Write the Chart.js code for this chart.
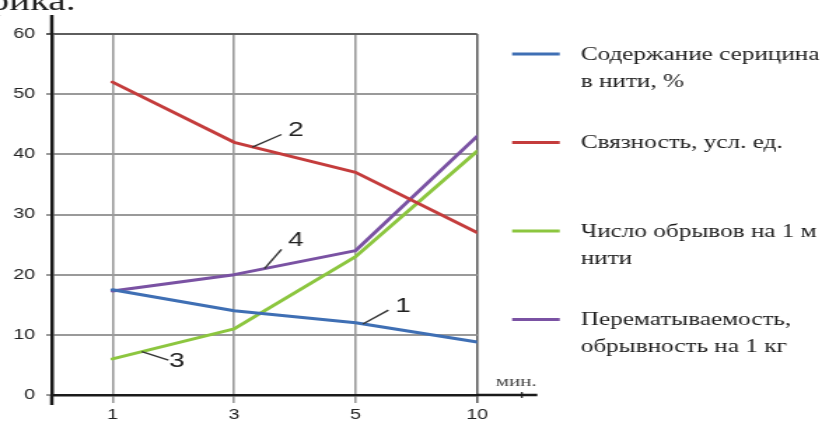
<!DOCTYPE html>
<html><head><meta charset="utf-8">
<script src="https://cdn.jsdelivr.net/npm/chart.js@4.4.1/dist/chart.umd.min.js"></script>
<style>html,body{margin:0;padding:0;background:#fff;overflow:hidden}
#c{display:block}</style>
</head><body>
<canvas id="c" width="597" height="424" style="width:836px;height:424px"></canvas>
<script>
// ---- data ----
const categories = ['1', '3', '5', '10'];
const xUnit = 'мин.';
const yTicks = [0, 10, 20, 30, 40, 50, 60];
const sericin = [17.5, 14, 12, 8.8];
const cohesion = [52, 42, 37, 27];
const breaksPerMeter = [6, 11, 23, 40.5];
const rewinding = [17.3, 20, 24, 43];
const seriesNames = [
  'Содержание серицина\nв нити, %',
  'Связность, усл. ед.',
  'Число обрывов на 1 м\nнити',
  'Перематываемость,\nобрывность на 1 кг'
];
const seriesNumbers = ['1', '2', '3', '4'];
const seriesColors = ['#3f6fb4', '#c43c3c', '#8cc63f', '#7a52a3'];
// callout numbers with leader lines (in data units: x = category index, y = value)
const callouts = [
  { n: '1', tx: 3.39, ty: 14.7, x1: 3.06, y1: 11.8, x2: 3.27, y2: 14.1 },
  { n: '2', tx: 2.51, ty: 44.0, x1: 2.15, y1: 41.2, x2: 2.39, y2: 43.3 },
  { n: '3', tx: 1.53, ty: 5.5, x1: 1.24, y1: 7.2, x2: 1.46, y2: 5.8 },
  { n: '4', tx: 2.51, ty: 25.6, x1: 2.25, y1: 21.0, x2: 2.39, y2: 24.2 }
];
const headerFragment = 'графика.';

const SANS = "'Liberation Sans', Arial, sans-serif";
const SERIF = "'Liberation Serif', 'Times New Roman', serif";

const toPoints = arr => arr.map((v, i) => ({ x: i + 1, y: v }));
const datasets = [sericin, cohesion, breaksPerMeter, rewinding].map((vals, i) => ({
  label: seriesNames[i],
  data: toPoints(vals),
  borderColor: seriesColors[i],
  backgroundColor: seriesColors[i],
  borderWidth: 3,
  pointRadius: 0,
  pointHoverRadius: 0,
  tension: 0,
  fill: false,
  borderJoinStyle: 'round',
  borderCapStyle: 'round'
}));

const decor = {
  id: 'decor',
  afterDraw(chart) {
    const ctx = chart.ctx;
    const { left, right, top, bottom } = chart.chartArea;
    const xs = chart.scales.x, ys = chart.scales.y;
    ctx.save();
    // axis extensions
    ctx.strokeStyle = '#1a1a1a';
    ctx.lineWidth = 2.5;
    ctx.beginPath();
    ctx.moveTo(left, top); ctx.lineTo(left, 15);
    ctx.moveTo(left, bottom); ctx.lineTo(left, bottom + 10);
    ctx.moveTo(right, bottom); ctx.lineTo(right + 43, bottom);
    ctx.stroke();
    ctx.lineWidth = 1.2;
    ctx.beginPath();
    ctx.moveTo(right + 32, bottom - 3); ctx.lineTo(right + 32, bottom + 3);
    ctx.stroke();
    // unit label
    ctx.fillStyle = '#444';
    ctx.font = '15px ' + SERIF;
    ctx.textAlign = 'center';
    ctx.textBaseline = 'middle';
    ctx.fillText(xUnit, right + 28, bottom - 13);
    // callouts
    ctx.strokeStyle = '#333';
    ctx.lineWidth = 1.4;
    ctx.fillStyle = '#222';
    ctx.font = '20px ' + SANS;
    callouts.forEach(c => {
      ctx.beginPath();
      ctx.moveTo(xs.getPixelForValue(c.x1), ys.getPixelForValue(c.y1));
      ctx.lineTo(xs.getPixelForValue(c.x2), ys.getPixelForValue(c.y2));
      ctx.stroke();
      ctx.fillText(c.n, xs.getPixelForValue(c.tx), ys.getPixelForValue(c.ty));
    });
    // legend
    const sx0 = right + 25, sx1 = right + 59, tx = right + 74;
    const step = 88.5, lineH = 27;
    ctx.font = '18px ' + SERIF;
    ctx.textAlign = 'left';
    chart.data.datasets.forEach((ds, i) => {
      const y = top + 21 + i * step;
      ctx.strokeStyle = ds.borderColor;
      ctx.lineWidth = 3;
      ctx.beginPath(); ctx.moveTo(sx0, y - 1); ctx.lineTo(sx1, y - 1); ctx.stroke();
      ctx.fillStyle = '#1e1e1e';
      ds.label.split('\n').forEach((ln, k) => ctx.fillText(ln, tx, y + k * lineH));
    });
    // fragment of preceding text at the top edge
    ctx.font = '28px ' + SERIF;
    ctx.textAlign = 'right';
    ctx.textBaseline = 'alphabetic';
    ctx.fillStyle = '#222';
    ctx.fillText(headerFragment, 54, 10);
    ctx.restore();
  }
};

new Chart(document.getElementById('c'), {
  type: 'line',
  data: { datasets },
  plugins: [decor],
  options: {
    responsive: false,
    animation: false,
    events: [],
    layout: { padding: { top: 34, right: 256.3, bottom: 0, left: 0 } },
    plugins: { legend: { display: false }, tooltip: { enabled: false } },
    scales: {
      x: {
        type: 'linear',
        min: 0.5,
        max: categories.length,
        afterBuildTicks: s => { s.ticks = categories.map((c, i) => ({ value: i + 1 })); },
        afterFit: s => { s.height = 29; },
        ticks: {
          callback: v => categories[v - 1],
          font: { family: SANS, size: 14 },
          color: '#222',
          padding: 4,
          maxRotation: 0,
          autoSkip: false
        },
        grid: {
          color: c => (c.tick && c.tick.value === categories.length) ? '#5e5e5e' : '#9a9a9a',
          lineWidth: 1.6,
          tickLength: 8
        },
        border: { display: true, color: '#1a1a1a', width: 2.5 }
      },
      y: {
        min: 0,
        max: 60,
        afterBuildTicks: s => { s.ticks = yTicks.map(v => ({ value: v })); },
        afterFit: s => { s.width = 37; },
        ticks: {
          font: { family: SANS, size: 14 },
          color: '#222',
          padding: 8
        },
        grid: {
          color: c => (c.tick && c.tick.value === 60) ? '#5e5e5e' : '#9a9a9a',
          lineWidth: 2,
          tickLength: 4
        },
        border: { display: true, color: '#1a1a1a', width: 2.5 }
      }
    }
  }
});
</script>
</body></html>
